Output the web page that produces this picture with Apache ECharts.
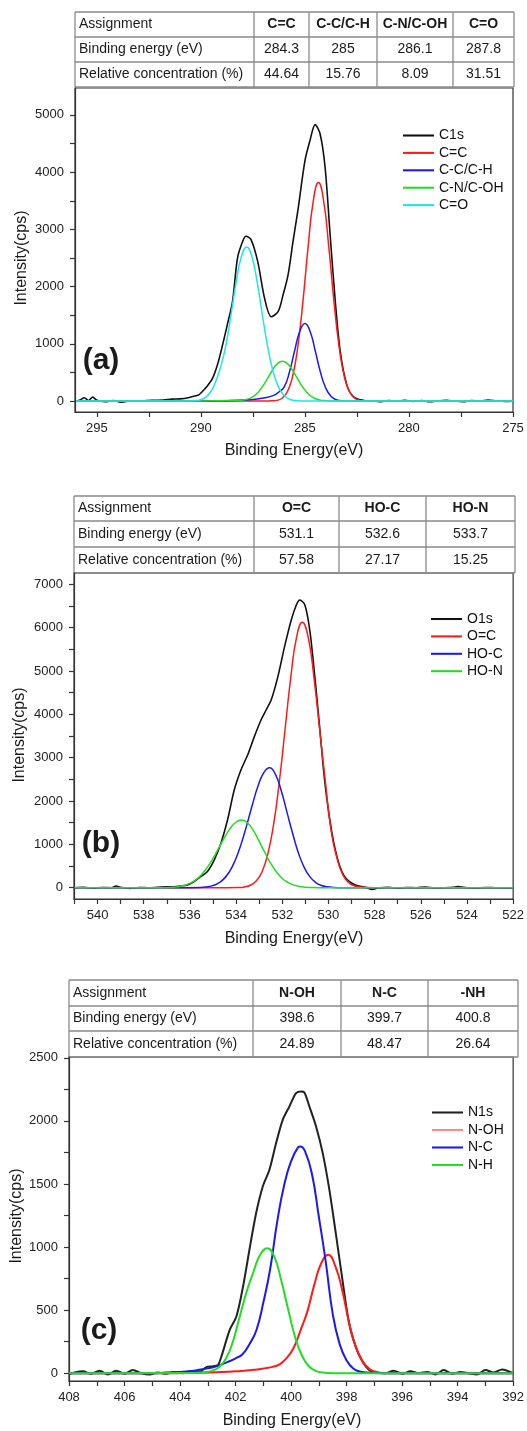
<!DOCTYPE html>
<html><head><meta charset="utf-8">
<script src="https://cdn.jsdelivr.net/npm/echarts@6.0.0/dist/echarts.min.js"></script>
<style>html,body{margin:0;padding:0;background:#fff;}#c{width:527px;height:1431px;}</style>
</head><body><div id="c"></div>
<script>
// ---------- Panel (a) C1s ----------
const aTableHead = ['Assignment', 'C=C', 'C-C/C-H', 'C-N/C-OH', 'C=O'];
const aTableEnergy = ['Binding energy (eV)', '284.3', '285', '286.1', '287.8'];
const aTableConc = ['Relative concentration (%)', '44.64', '15.76', '8.09', '31.51'];
const aNames = ['C1s', 'C=C', 'C-C/C-H', 'C-N/C-OH', 'C=O'];
const aXLabels = [295, 290, 285, 280, 275];
const aYLabels = [0, 1000, 2000, 3000, 4000, 5000];

const aC1sE = [296.0,295.8,295.6,295.4,295.2,295.0,294.6,294.2,293.8,293.4,293.0,292.6,292.2,291.8,291.4,291.0,290.6,290.3,290.1,289.95,289.7,289.45,289.2,288.96,288.72,288.48,288.24,287.99,287.83,287.59,287.27,286.94,286.62,286.29,286.05,285.81,285.57,285.32,285.0,284.76,284.51,284.27,284.03,283.79,283.54,283.3,282.98,282.65,282.17,281.8,281.4,281.0,280.6,280.2,279.8,279.4,279.0,278.6,278.2,277.8,277.4,277.0,276.6,276.2,275.8,275.4,275.0];
const aC1sI = [0,20,60,10,70,15,-10,10,-20,5,0,10,15,20,35,40,60,90,110,160,260,392,640,978,1350,1739,2500,2793,2880,2822,2441,1797,1475,1563,1856,2207,2793,3378,4198,4549,4830,4666,4081,2910,1739,861,275,70,12,5,-10,10,0,15,-5,10,-10,5,15,0,-10,10,0,20,5,-5,0];

const aCCE = [296,290,287.1,286.85,286.6,286.35,286.1,285.85,285.6,285.35,285.1,284.85,284.6,284.35,284.1,283.85,283.6,283.35,283.1,282.85,282.6,282.35,282.1,281.85,280,275];
const aCCI = [0,0,0,2,5,13,50,159,420,930,1725,2681,3494,3817,3494,2681,1725,930,420,159,50,13,3,0,0,0];

const aCHE = [296,290,289,288.5,288,287.5,287,286.5,286.25,286,285.75,285.5,285.25,285,284.75,284.5,284.25,284,283.75,283.5,283.25,283,280,275];
const aCHI = [0,0,5,10,18,30,55,100,160,246,499,871,1215,1358,1215,871,499,229,84,25,6,0,0,0];

const aCNE = [296,290,289.08,288.58,288.08,287.83,287.58,287.33,287.08,286.83,286.58,286.33,286.08,285.83,285.58,285.33,285.08,284.83,284.58,284.33,284.08,283.83,283.5,280,275];
const aCNI = [0,2,6,12,16,30,62,125,232,376,530,651,697,651,530,376,232,125,59,24,9,3,0,0,0];

const aCOE = [296,291,290.3,290.05,289.8,289.55,289.3,289.05,288.8,288.55,288.3,288.05,287.8,287.55,287.3,287.05,286.8,286.55,286.3,286.05,285.8,285.55,285.3,285,280,275];
const aCOI = [0,0,8,20,60,150,330,600,971,1517,2087,2527,2693,2527,2087,1517,971,547,271,118,45,15,5,0,0,0];

// ---------- Panel (b) O1s ----------
const bTableHead = ['Assignment', 'O=C', 'HO-C', 'HO-N'];
const bTableEnergy = ['Binding energy (eV)', '531.1', '532.6', '533.7'];
const bTableConc = ['Relative concentration (%)', '57.58', '27.17', '15.25'];
const bNames = ['O1s', 'O=C', 'HO-C', 'HO-N'];
const bXLabels = [540, 538, 536, 534, 532, 530, 528, 526, 524, 522];
const bYLabels = [0, 1000, 2000, 3000, 4000, 5000, 6000, 7000];

const bO1sE = [541,540.6,540.2,539.8,539.4,539.2,539.0,538.6,538.2,537.8,537.4,537.0,536.6,536.4,536.12,535.83,535.54,535.25,534.95,534.66,534.37,534.08,533.79,533.5,533.21,532.92,532.7,532.48,532.19,531.9,531.61,531.39,531.24,531.02,530.81,530.59,530.37,530.15,529.86,529.57,529.28,528.84,528.4,528.1,527.8,527.4,527.0,526.6,526.2,525.8,525.4,525.0,524.6,524.4,524.0,523.6,523.2,522.8,522.4,522.0];
const bO1sI = [0,10,-10,5,0,40,10,-15,5,0,10,20,30,40,62,138,254,369,638,1023,1562,2254,2715,3062,3485,3869,4100,4331,4869,5562,6177,6523,6638,6523,5946,4869,3638,2408,1300,600,240,62,10,-40,0,10,-10,5,0,15,-5,0,10,25,0,-10,5,0,-5,0];

const bOCE = [541,535,533.88,533.63,533.38,533.13,532.88,532.63,532.38,532.13,531.88,531.63,531.38,531.13,530.88,530.63,530.38,530.13,529.88,529.63,529.38,529.13,528.88,528.63,528.38,528,522];
const bOCI = [0,0,6,19,57,153,362,767,1446,2433,3645,4860,5780,6123,5780,4860,3645,2433,1300,680,300,120,45,15,5,0,0];

const bHCE = [541,536.5,535.55,535.3,535.05,534.8,534.55,534.3,534.05,533.8,533.55,533.3,533.05,532.8,532.55,532.3,532.05,531.8,531.55,531.3,531.05,530.8,530.55,530.3,530.05,529.8,529.4,522];
const bHCI = [0,0,7,18,43,95,192,360,618,977,1421,1903,2344,2656,2769,2620,2250,1750,1250,800,470,250,120,50,20,7,0,0];

const bHNE = [541,537.3,536.76,536.51,536.26,536.01,535.76,535.51,535.26,535.01,534.76,534.51,534.26,534.01,533.76,533.51,533.26,533.01,532.76,532.51,532.26,532.01,531.76,531.51,531.26,531.01,530.76,530.4,522];
const bHNI = [0,0,12,25,52,99,177,295,459,667,906,1150,1363,1510,1562,1500,1330,1080,820,570,370,220,125,65,30,13,5,0,0];

// ---------- Panel (c) N1s ----------
const cTableHead = ['Assignment', 'N-OH', 'N-C', '-NH'];
const cTableEnergy = ['Binding energy (eV)', '398.6', '399.7', '400.8'];
const cTableConc = ['Relative concentration (%)', '24.89', '48.47', '26.64'];
const cNames = ['N1s', 'N-OH', 'N-C', 'N-H'];
const cXLabels = [408, 406, 404, 402, 400, 398, 396, 394, 392];
const cYLabels = [0, 500, 1000, 1500, 2000, 2500];

const cN1sE = [408,407.8,407.5,407.2,406.9,406.6,406.3,406.0,405.7,405.4,405.1,404.8,404.5,404.2,403.9,403.6,403.29,403.05,402.8,402.63,402.51,402.21,401.97,401.73,401.5,401.26,401.02,400.78,400.54,400.3,400.06,399.82,399.64,399.52,399.34,399.1,398.86,398.62,398.39,398.15,397.91,397.67,397.43,397.19,396.95,396.6,396.3,396.0,395.7,395.4,395.1,394.8,394.5,394.2,393.9,393.6,393.3,393.0,392.7,392.4,392.0];
const cN1sI = [-10,5,15,-5,20,-10,20,-5,25,0,-10,5,-5,10,0,15,13,48,55,66,132,343,449,687,978,1268,1480,1612,1823,2008,2114,2219,2232,2225,2114,1955,1744,1453,1110,740,396,211,92,26,5,0,20,-5,15,0,10,-10,25,-5,10,0,-10,25,5,30,0];

const cNOE = [408,404.5,403.5,402.5,401.91,401.41,400.91,400.66,400.41,400.16,399.91,399.66,399.41,399.16,398.91,398.66,398.41,398.16,397.91,397.66,397.41,397.16,396.91,396.6,392];
const cNOI = [0,0,3,9,16,25,40,50,70,120,200,340,492,704,873,938,850,660,400,200,90,30,10,0,0];

const cNCE = [408,405,404.5,404,403.5,403,402.75,402.5,402.25,402,401.75,401.5,401.25,401,400.75,400.5,400.25,400,399.75,399.67,399.5,399.25,399,398.75,398.5,398.25,398,397.75,397.5,397,396.5,392];
const cNCI = [0,0,5,10,20,38,50,70,92,118,150,230,340,560,830,1200,1490,1680,1790,1797,1760,1580,1240,880,470,230,100,35,12,2,0,0];

const cNHE = [408,403.5,403.11,402.86,402.61,402.36,402.11,401.86,401.61,401.36,401.11,400.86,400.61,400.36,400.11,399.86,399.61,399.36,399.11,398.86,398.5,392];
const cNHI = [0,2,8,18,45,110,240,440,640,800,940,991,926,740,510,290,140,55,18,5,0,0];

// ---------- helpers ----------
const FAM = "'Liberation Sans', Arial, Helvetica, sans-serif";
const AX = '#333';
const pairs = (xs, ys) => xs.map((x, i) => [x, ys[i]]);
const steps = (a, b, s) => { const r = []; for (let v = a; v <= b + 1e-9; v += s) r.push(+v.toFixed(3)); return r; };
const plain = v => String(v);

function lineSeries(name, idx, xs, ys, color, width, smooth) {
  return { name, type: 'line', xAxisIndex: idx, yAxisIndex: idx, data: pairs(xs, ys),
    symbol: 'none', showSymbol: false, smooth: smooth, clip: true,
    lineStyle: { color, width }, itemStyle: { color }, emphasis: { disabled: true }, z: 3 };
}

function xAxisCfg(idx, min, max, labels, ticks) {
  return { gridIndex: idx, type: 'value', min, max, inverse: true,
    axisLine: { show: true, onZero: false, lineStyle: { color: AX, width: 1.2 } },
    axisTick: { show: true, inside: false, length: 5, customValues: ticks, lineStyle: { color: AX, width: 1.2 } },
    axisLabel: { customValues: labels, formatter: plain, fontSize: 13, color: '#222', margin: 10, fontFamily: FAM },
    splitLine: { show: false } };
}
function yAxisCfg(idx, min, max, labels, ticks) {
  return { gridIndex: idx, type: 'value', min, max,
    axisLine: { show: true, onZero: false, lineStyle: { color: AX, width: 1.2 } },
    axisTick: { show: true, inside: false, length: 5, customValues: ticks, lineStyle: { color: AX, width: 1.2 } },
    axisLabel: { customValues: labels, formatter: plain, fontSize: 13, color: '#222', margin: 11, fontFamily: FAM },
    splitLine: { show: false } };
}

function tableElems(rows, colX, rowY) {
  const els = [];
  const st = { stroke: '#8a8a8a', lineWidth: 1.3 };
  rowY.forEach(y => els.push({ type: 'line', silent: true, shape: { x1: colX[0], y1: y, x2: colX[colX.length - 1], y2: y }, style: st }));
  colX.forEach(x => els.push({ type: 'line', silent: true, shape: { x1: x, y1: rowY[0], x2: x, y2: rowY[rowY.length - 1] }, style: st }));
  rows.forEach((row, r) => row.forEach((txt, c) => {
    const cy = (rowY[r] + rowY[r + 1]) / 2;
    const first = c === 0;
    const cx = first ? colX[0] + 4 : (colX[c] + colX[c + 1]) / 2;
    const al = first ? 'left' : 'center';
    els.push({ type: 'text', silent: true, x: cx, y: cy,
      style: { text: txt, font: (r === 0 && c > 0 ? 'bold ' : '') + '14px ' + FAM, fill: '#1a1a1a',
        align: al, verticalAlign: 'middle', textAlign: al, textVerticalAlign: 'middle' } });
  }));
  return els;
}
function textEl(txt, x, y, font, rot) {
  return { type: 'text', silent: true, x, y, rotation: rot || 0,
    style: { text: txt, font, fill: '#1a1a1a', align: 'center', verticalAlign: 'middle', textAlign: 'center', textVerticalAlign: 'middle' } };
}

const grids = [
  { left: 75, top: 88, width: 438, height: 324 },
  { left: 74, top: 573, width: 440, height: 326 },
  { left: 69, top: 1057, width: 446, height: 324 }
].map(g => Object.assign(g, { show: true, borderColor: AX, borderWidth: 1.2, backgroundColor: 'transparent' }));

const THICK = 'path://M0,0H30V2H0Z';
const THIN = 'path://M0,0H30V1H0Z';
const legendBase = { orient: 'vertical', itemWidth: 31, itemHeight: 14, itemGap: 3.4, selectedMode: false, padding: 0,
  icon: THICK, symbolKeepAspect: true,
  textStyle: { fontSize: 14, color: '#111', fontFamily: FAM, lineHeight: 14 } };

const graphic = [].concat(
  tableElems([aTableHead, aTableEnergy, aTableConc], [75, 254, 309, 377, 453, 514], [12, 37, 62, 87]),
  tableElems([bTableHead, bTableEnergy, bTableConc], [74, 254, 339, 426, 515], [496, 521, 547, 573]),
  tableElems([cTableHead, cTableEnergy, cTableConc], [69, 253, 341, 428, 518], [980, 1006, 1031, 1057]),
  [
    textEl('Intensity(cps)', 22, 258, '16px ' + FAM, Math.PI / 2),
    textEl('Intensity(cps)', 20, 735, '16px ' + FAM, Math.PI / 2),
    textEl('Intensity(cps)', 17, 1216, '16px ' + FAM, Math.PI / 2),
    textEl('Binding Energy(eV)', 294, 451, '16px ' + FAM),
    textEl('Binding Energy(eV)', 294, 939, '16px ' + FAM),
    textEl('Binding Energy(eV)', 292, 1421, '16px ' + FAM),
    textEl('(a)', 101, 361, 'bold 30px ' + FAM),
    textEl('(b)', 101, 844, 'bold 30px ' + FAM),
    textEl('(c)', 99, 1331, 'bold 30px ' + FAM)
  ]
);

const option = {
  animation: false,
  backgroundColor: '#fff',
  textStyle: { fontFamily: FAM },
  grid: grids,
  xAxis: [
    xAxisCfg(0, 275, 296.05, aXLabels, steps(275, 295, 2.5)),
    xAxisCfg(1, 522, 541.02, bXLabels, steps(522, 541, 1)),
    xAxisCfg(2, 392, 408, cXLabels, steps(392, 408, 1))
  ],
  yAxis: [
    yAxisCfg(0, -190, 5470, aYLabels, steps(0, 5000, 500)),
    yAxisCfg(1, -260, 7260, bYLabels, steps(0, 7000, 500)),
    yAxisCfg(2, -62, 2506, cYLabels, steps(0, 2500, 250))
  ],
  legend: [
    Object.assign({}, legendBase, { data: aNames, left: 403, top: 128.5 }),
    Object.assign({}, legendBase, { data: bNames, left: 431, top: 612 }),
    Object.assign({}, legendBase, { data: [cNames[0], { name: cNames[1], icon: THIN }, cNames[2], cNames[3]], left: 432, top: 1105.5, itemGap: 3.5 })
  ],
  graphic: { elements: graphic },
  series: [
    lineSeries(aNames[0], 0, aC1sE, aC1sI, '#111111', 1.6, 0.3),
    lineSeries(aNames[1], 0, aCCE, aCCI, '#ff1a1a', 1.5, 0.5),
    lineSeries(aNames[2], 0, aCHE, aCHI, '#1a1aee', 1.5, 0.5),
    lineSeries(aNames[3], 0, aCNE, aCNI, '#22dd22', 1.5, 0.5),
    lineSeries(aNames[4], 0, aCOE, aCOI, '#1ee6e6', 1.5, 0.5),

    lineSeries(bNames[0], 1, bO1sE, bO1sI, '#111111', 1.6, 0.3),
    lineSeries(bNames[1], 1, bOCE, bOCI, '#ff1a1a', 1.5, 0.5),
    lineSeries(bNames[2], 1, bHCE, bHCI, '#1a1aee', 1.5, 0.5),
    lineSeries(bNames[3], 1, bHNE, bHNI, '#22dd22', 1.5, 0.5),

    lineSeries(cNames[0], 2, cN1sE, cN1sI, '#222222', 2, 0.3),
    lineSeries(cNames[1], 2, cNOE, cNOI, '#ff1a1a', 2, 0.5),
    lineSeries(cNames[2], 2, cNCE, cNCI, '#1a1aee', 2, 0.5),
    lineSeries(cNames[3], 2, cNHE, cNHI, '#22dd22', 2, 0.5)
  ]
};

const chart = echarts.init(document.getElementById('c'), null, { renderer: 'canvas', width: 527, height: 1431 });
chart.setOption(option);
</script></body></html>
